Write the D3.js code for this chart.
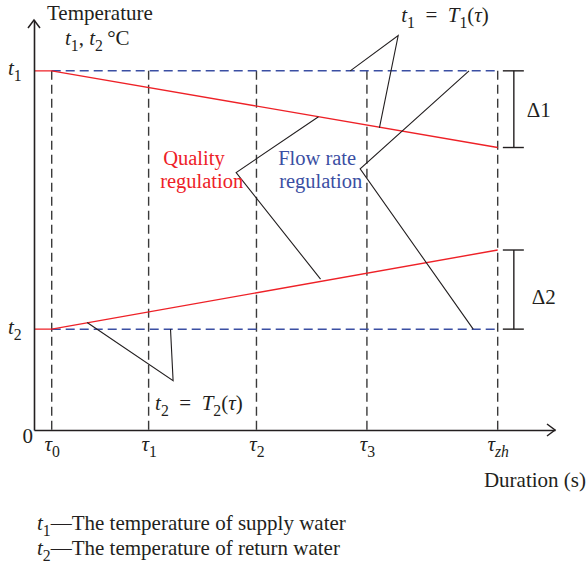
<!DOCTYPE html>
<html>
<head>
<meta charset="utf-8">
<script src="https://cdn.jsdelivr.net/npm/d3@7"></script>
<style>
  body { margin: 0; background: #fff; }
  svg text { font-family: "Liberation Serif", "DejaVu Serif", serif; fill: #231f20; }
</style>
</head>
<body>
<div id="chart"></div>
<script>
// ---- data (chart units) ----
var tauNames = [["τ", "0"], ["τ", "1"], ["τ", "2"], ["τ", "3"], ["τ", "zh"]];
var tauX = [3.4, 22.0, 42.7, 63.9, 89.0];
var levelNames = [["t", "1"], ["t", "2"]];
var levelY = [87.6, 24.6];

// quality regulation (red)
var supplyLine = [[0, 87.6], [3.4, 87.6], [89.0, 68.9]];
var returnLine = [[0, 24.6], [3.4, 24.6], [89.0, 43.9]];
// flow rate regulation (blue dashed)
var flowSupply = [[3.4, 87.6], [89.0, 87.6]];
var flowReturn = [[3.4, 24.6], [89.0, 24.6]];

// leader lines of the annotations
var leaderT1 = [[60.7, 87.6], [69.9, 96.2], [66.3, 73.7]];
var leaderQuality = [[54.6, 76.4], [38.8, 62.8], [55.0, 36.8]];
var leaderFlow = [[83.5, 87.6], [62.6, 63.7], [84.3, 24.6]];
var leaderT2 = [[10.2, 26.2], [26.7, 12.0], [26.2, 24.6]];

// temperature differences at the end
var deltaX = 92.1;
var deltaNames = ["Δ1", "Δ2"];
var deltaTop = [87.6, 43.9];
var deltaBottom = [68.9, 24.6];

/* ------------------------------------------ */
var width = 587;
var height = 571;
var red = "#ee2127";
var blue = "#3b4fa3";
var ink = "#231f20";
var eq = "\u2002=\u2002";

var x = d3.scaleLinear().domain([0, 100]).range([34, 555]);
var y = d3.scaleLinear().domain([0, 100]).range([430, 20]);

var svg = d3.select("#chart").append("svg")
  .attr("width", width)
  .attr("height", height);

var line = d3.line().x(d => x(d[0])).y(d => y(d[1]));

// writes text made of parts: [string, "n" | "i" | "s" | "si"] (normal, italic, subscript)
function rich(sel, parts) {
  var down = false;
  parts.forEach(function (p) {
    var ts = sel.append("tspan").text(p[0]);
    if (p[1] == "i" || p[1] == "si") ts.attr("font-style", "italic");
    if (p[1] == "s" || p[1] == "si") {
      ts.attr("font-size", "0.75em");
      if (!down) { ts.attr("dy", 6); down = true; }
    } else if (down) {
      ts.attr("dy", -6); down = false;
    }
  });
  return sel;
}

/* vertical dashed lines at tau */
svg.append("g").selectAll("line")
  .data(tauX).enter()
  .append("line")
  .attr("x1", d => x(d)).attr("x2", d => x(d))
  .attr("y1", y(levelY[0])).attr("y2", y(0))
  .attr("stroke", "#3a3a3a")
  .attr("stroke-width", 1.4)
  .attr("stroke-dasharray", "9,5");

/* flow rate regulation: blue dashed */
[flowSupply, flowReturn].forEach(function (d) {
  svg.append("path")
    .attr("d", line(d))
    .attr("fill", "none")
    .attr("stroke", blue)
    .attr("stroke-width", 1.5)
    .attr("stroke-dasharray", "9,5");
});

/* quality regulation: red */
[supplyLine, returnLine].forEach(function (d) {
  svg.append("path")
    .attr("d", line(d))
    .attr("fill", "none")
    .attr("stroke", red)
    .attr("stroke-width", 1.4);
});

/* leaders */
[leaderT1, leaderQuality, leaderFlow, leaderT2].forEach(function (d) {
  svg.append("path")
    .attr("d", line(d))
    .attr("fill", "none")
    .attr("stroke", ink)
    .attr("stroke-width", 1.1);
});

/* delta brackets */
var dOff = [8, 14];
deltaNames.forEach(function (name, i) {
  var g = svg.append("g").attr("stroke", ink).attr("stroke-width", 1.4);
  g.append("line").attr("x1", x(deltaX)).attr("x2", x(deltaX))
    .attr("y1", y(deltaTop[i])).attr("y2", y(deltaBottom[i]));
  [deltaTop[i], deltaBottom[i]].forEach(function (v) {
    g.append("line").attr("x1", x(deltaX) - 11).attr("x2", x(deltaX) + 10)
      .attr("y1", y(v)).attr("y2", y(v));
  });
  svg.append("text")
    .attr("x", x(deltaX) + 13 + i * 5)
    .attr("y", (y(deltaTop[i]) + y(deltaBottom[i])) / 2 + dOff[i])
    .attr("font-size", 21)
    .text(name);
});

/* axes */
var xAxis = d3.axisBottom(x).tickValues(tauX).tickSize(0).tickSizeOuter(0).tickFormat("");
var yAxis = d3.axisLeft(y).tickValues(levelY).tickSize(0).tickSizeOuter(0).tickFormat("");

var gx = svg.append("g")
  .attr("transform", "translate(0," + y(0) + ")")
  .call(xAxis);
var gy = svg.append("g")
  .attr("transform", "translate(" + x(0) + ",0)")
  .call(yAxis);
[gx, gy].forEach(function (g) {
  g.select(".domain").attr("stroke", ink).attr("stroke-width", 1.6);
});

gx.selectAll(".tick").each(function (d, i) {
  var t = d3.select(this).select("text")
    .attr("y", 21).attr("dy", 0)
    .attr("font-size", 21)
    .attr("fill", ink);
  rich(t, [[tauNames[i][0], "i"], [tauNames[i][1], tauNames[i][1] == "zh" ? "si" : "s"]]);
});
gy.selectAll(".tick").each(function (d, i) {
  var t = d3.select(this).select("text")
    .attr("x", -26).attr("dy", 0).attr("y", 4)
    .attr("text-anchor", "start")
    .attr("font-size", 21)
    .attr("fill", ink);
  rich(t, [[levelNames[i][0], "i"], [levelNames[i][1], "s"]]);
});

// arrow heads
svg.append("path")
  .attr("d", "M" + (x(0) - 6) + "," + (y(100) + 8) + "L" + x(0) + "," + y(100) + "L" + (x(0) + 6) + "," + (y(100) + 8))
  .attr("fill", "none").attr("stroke", ink).attr("stroke-width", 1.5);
svg.append("path")
  .attr("d", "M" + (x(100) - 8) + "," + (y(0) - 6) + "L" + x(100) + "," + y(0) + "L" + (x(100) - 8) + "," + (y(0) + 6))
  .attr("fill", "none").attr("stroke", ink).attr("stroke-width", 1.5);

svg.append("text").attr("x", x(0) - 1).attr("y", y(0) + 13)
  .attr("font-size", 21).attr("text-anchor", "end").text("0");

/* axis titles */
svg.append("text").attr("x", 47).attr("y", 20).attr("font-size", 21).text("Temperature");
rich(svg.append("text").attr("x", 65).attr("y", 45).attr("font-size", 21),
  [["t", "i"], ["1", "s"], [", ", "n"], ["t", "i"], ["2", "s"], ["\u2009°C", "n"]]);
svg.append("text").attr("x", 586).attr("y", 487).attr("font-size", 21)
  .attr("text-anchor", "end").text("Duration (s)");

/* annotation texts */
rich(svg.append("text")
  .attr("x", x(leaderT1[1][0]) + 3).attr("y", y(leaderT1[1][1]) - 14)
  .attr("font-size", 21),
  [["t", "i"], ["1", "s"], [eq, "n"], ["T", "i"], ["1", "s"], ["(", "n"], ["τ", "i"], [")", "n"]]);
rich(svg.append("text")
  .attr("x", x(leaderT2[1][0]) - 18).attr("y", y(leaderT2[1][1]) + 29)
  .attr("font-size", 21),
  [["t", "i"], ["2", "s"], [eq, "n"], ["T", "i"], ["2", "s"], ["(", "n"], ["τ", "i"], [")", "n"]]);

var qx = x(leaderQuality[1][0]), qy = y(leaderQuality[1][1]);
svg.append("text").attr("x", qx - 73).attr("y", qy - 8).attr("font-size", 20.5)
  .style("fill", red).text("Quality");
svg.append("text").attr("x", qx - 76).attr("y", qy + 15).attr("font-size", 20.5)
  .style("fill", red).text("regulation");

var fx = x(leaderFlow[1][0]), fy = y(leaderFlow[1][1]);
svg.append("text").attr("x", fx - 82).attr("y", fy - 4).attr("font-size", 20.5)
  .style("fill", blue).text("Flow rate");
svg.append("text").attr("x", fx - 81).attr("y", fy + 19).attr("font-size", 20.5)
  .style("fill", blue).text("regulation");

/* notes under the chart */
rich(svg.append("text").attr("x", 37).attr("y", 530).attr("font-size", 21),
  [["t", "i"], ["1", "s"], ["—The temperature of supply water", "n"]]);
rich(svg.append("text").attr("x", 37).attr("y", 555).attr("font-size", 21),
  [["t", "i"], ["2", "s"], ["—The temperature of return water", "n"]]);
</script>
</body>
</html>
